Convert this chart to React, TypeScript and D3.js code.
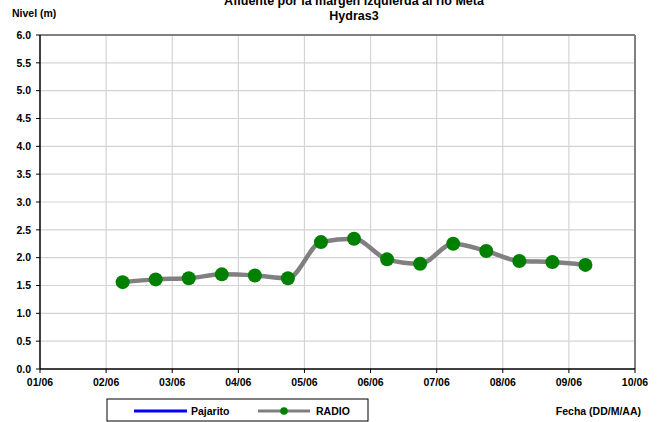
import React from "react";
import * as d3 from "d3";

const xTickLabels = ["01/06", "02/06", "03/06", "04/06", "05/06", "06/06", "07/06", "08/06", "09/06", "10/06"];
const yTicks = [0, 0.5, 1, 1.5, 2, 2.5, 3, 3.5, 4, 4.5, 5, 5.5, 6];
// day offsets (days after 01/06 00:00)
const radioDays = [1.25, 1.75, 2.25, 2.75, 3.25, 3.75, 4.25, 4.75, 5.25, 5.75, 6.25, 6.75, 7.25, 7.75, 8.25];
const radioValues = [1.56, 1.61, 1.63, 1.70, 1.68, 1.63, 2.28, 2.34, 1.97, 1.89, 2.25, 2.12, 1.94, 1.92, 1.87];

const W = 659, H = 422;
const left = 40, right = 635, top = 35, bottom = 369;
const font = "'Liberation Sans', Arial, sans-serif";
const fs = 10.5;

export default function App() {
  const x = d3.scaleLinear().domain([0, 9]).range([left, right]);
  const y = d3.scaleLinear().domain([0, 6]).range([bottom, top]);
  const pts: [number, number][] = radioDays.map((d, i) => [x(d), y(radioValues[i])]);
  const line = d3.line().curve(d3.curveMonotoneX)(pts) || "";
  return (
    <svg width={W} height={H} style={{ position: "absolute", left: 0, top: 0, background: "#fff" }} fontFamily={font} fontWeight="bold">
      <rect x={0} y={0} width={W} height={H} fill="#fff" />
      <text x={354} y={5} textAnchor="middle" fontSize={12.5}>Afluente por la margen izquierda al río Meta</text>
      <text x={354} y={20} textAnchor="middle" fontSize={12.5}>Hydras3</text>
      <text x={12} y={16.5} fontSize={fs}>Nivel (m)</text>
      {yTicks.map((t) => (
        <g key={"y" + t}>
          {t > 0 && t < 6 && <line x1={left} x2={right} y1={y(t)} y2={y(t)} stroke="#d4d4d4" strokeWidth={1.2} />}
          <line x1={left - 4} x2={left} y1={y(t)} y2={y(t)} stroke="#000" />
          <text x={left - 9} y={y(t) + 3.8} textAnchor="end" fontSize={fs}>{t.toFixed(1)}</text>
        </g>
      ))}
      {xTickLabels.map((lab, i) => (
        <g key={"x" + lab}>
          {i > 0 && i < 9 && <line x1={x(i)} x2={x(i)} y1={top} y2={bottom} stroke="#d4d4d4" strokeWidth={1.2} />}
          <line x1={x(i)} x2={x(i)} y1={bottom} y2={bottom + 4} stroke="#000" />
          <text x={x(i)} y={bottom + 17} textAnchor="middle" fontSize={fs}>{lab}</text>
        </g>
      ))}
      <line x1={left} x2={right} y1={top} y2={top} stroke="#808080" strokeWidth={2} />
      <line x1={right} x2={right} y1={top} y2={bottom} stroke="#808080" strokeWidth={2} />
      <line x1={left} x2={left} y1={top} y2={bottom} stroke="#000" strokeWidth={1.5} />
      <line x1={left} x2={right} y1={bottom} y2={bottom} stroke="#000" strokeWidth={1.5} />
      <path d={line} fill="none" stroke="#808080" strokeWidth={4.5} strokeLinejoin="round" />
      {pts.map((p, i) => (
        <circle key={i} cx={p[0]} cy={p[1]} r={7} fill="#008000" />
      ))}
      <rect x={107} y={399} width={261} height={22} fill="#fff" stroke="#000" strokeWidth={1} />
      <line x1={134} x2={187} y1={411} y2={411} stroke="#0000ff" strokeWidth={3} />
      <text x={191} y={415} fontSize={fs}>Pajarito</text>
      <line x1={258} x2={310} y1={411} y2={411} stroke="#808080" strokeWidth={3} />
      <circle cx={284} cy={411} r={3.8} fill="#008000" />
      <text x={316} y={415} fontSize={fs}>RADIO</text>
      <text x={641} y={415} textAnchor="end" fontSize={fs}>Fecha (DD/M/AA)</text>
    </svg>
  );
}
